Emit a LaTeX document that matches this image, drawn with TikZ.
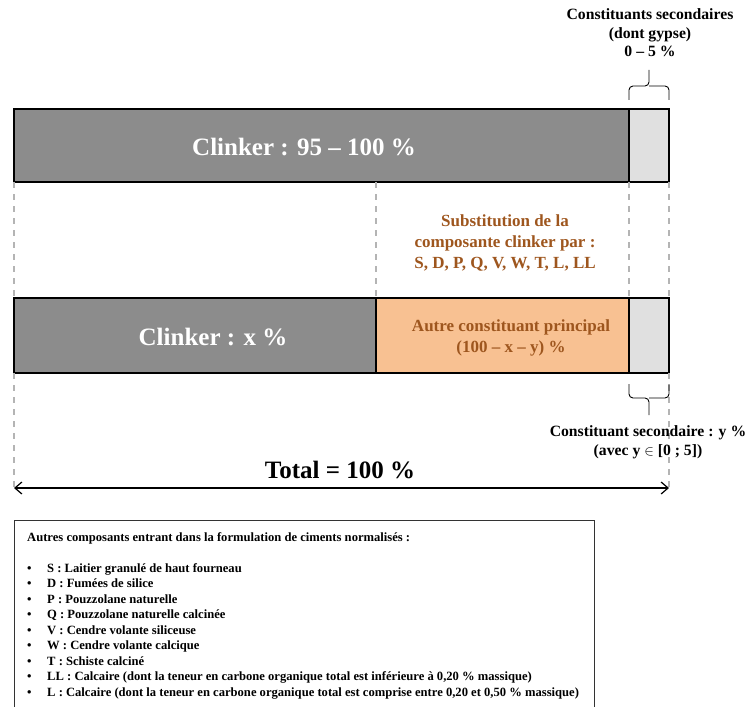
\documentclass[tikz,border=0pt]{standalone}
\usepackage{fontspec}
\setmainfont{Liberation Serif}
\usetikzlibrary{positioning,arrows.meta}
\definecolor{clinkgray}{HTML}{8C8C8C}
\definecolor{secgray}{HTML}{E0E0E0}
\definecolor{autreorange}{HTML}{F8C192}
\definecolor{subbrown}{HTML}{9E561E}
\definecolor{guidegray}{HTML}{B4B4B4}
\tikzset{
    bar/.style={draw=black,line width=1.5pt,inner sep=0pt,outer sep=0pt,anchor=north west},
    guide/.style={draw=guidegray,line width=1.2pt,dash pattern=on 6pt off 6pt},
    bigtext/.style={font=\fontsize{25}{28}\selectfont\bfseries},
    midtext/.style={font=\fontsize{17}{21}\selectfont\bfseries,text=subbrown,align=center},
    smalltext/.style={font=\fontsize{15.7}{18.5}\selectfont\bfseries,align=center},
    bracel/.style={line width=0.9pt,rounded corners=4pt}
}
\begin{document}
\begin{tikzpicture}[x=1pt,y=-1pt]
\useasboundingbox (0,0) rectangle (746,706);
% barre du haut
\node[bar,fill=clinkgray,minimum width=615pt,minimum height=73pt] (ckA) at (14,109) {};
\node[bar,fill=secgray,minimum width=40pt,minimum height=73pt,right=0pt of ckA] (scA) {};
\node[bigtext,text=white] (ckAtxt) at (304,147) {Clinker : 95 – 100 \%};
% barre du bas
\node[bar,fill=clinkgray,minimum width=362pt,minimum height=75pt] (ckB) at (14,298) {};
\node[bar,fill=autreorange,minimum width=253pt,minimum height=75pt,right=0pt of ckB] (acB) {};
\node[bar,fill=secgray,minimum width=40pt,minimum height=75pt,right=0pt of acB] (scB) {};
\node[bigtext,text=white] (ckBtxt) at (213,337) {Clinker : x \%};
\node[midtext] (acBtxt) at (511,338) {Autre constituant principal\\(100 – x – y) \%};
% pointilles
\draw[guide] (ckA.south west) -- (ckB.north west);
\draw[guide] (acB.north west |- ckA.south) -- (acB.north west);
\draw[guide] (scA.south west) -- (scB.north west);
\draw[guide] (scA.south east) -- (scB.north east);
\coordinate (totL) at (14,488);
\coordinate (totR) at (669,488);
\draw[guide] (ckB.south west) -- ([yshift=-4pt]totL);
\draw[guide] (scB.south east) -- ([yshift=-4pt]totR);
\node[midtext] (subtxt) at (505,243) {Substitution de la\\composante clinker par :\\S, D, P, Q, V, W, T, L, LL};
% accolades
\draw[bracel] (629,100) -- (629,86) -- (649,86) -- (649,70);
\draw[bracel] (669,100) -- (669,86) -- (649,86);
\node[smalltext] (sectop) at (650,33) {Constituants secondaires\\(dont gypse)\\0 – 5 \%};
\draw[bracel] (629,384) -- (629,398) -- (649,398) -- (649,415);
\draw[bracel] (669,384) -- (669,398) -- (649,398);
\node[smalltext] (secbot) at (648,442) {Constituant secondaire : y \%\\(avec y $\in$ [0 ; 5])};
% total
\node[bigtext] (tottxt) at (340,470) {Total = 100 \%};
\draw[line width=1.2pt,{Straight Barb[length=7pt,width=12pt]}-{Straight Barb[length=7pt,width=12pt]}] (totL) -- (totR);
% legende
\node[draw=black!80,line width=0.8pt,anchor=north west,minimum width=580pt,minimum height=190pt,inner sep=0pt] (legbox) at (14,520) {};
\node[anchor=north west,align=left,inner sep=0pt,font=\fontsize{12.6}{15.5}\selectfont\bfseries] (legtxt) at (27,532)
{Autres composants entrant dans la formulation de ciments normalisés :\\[15.5pt]
\makebox[20pt][l]{\textbullet}S : Laitier granulé de haut fourneau\\
\makebox[20pt][l]{\textbullet}D : Fumées de silice\\
\makebox[20pt][l]{\textbullet}P : Pouzzolane naturelle\\
\makebox[20pt][l]{\textbullet}Q : Pouzzolane naturelle calcinée\\
\makebox[20pt][l]{\textbullet}V : Cendre volante siliceuse\\
\makebox[20pt][l]{\textbullet}W : Cendre volante calcique\\
\makebox[20pt][l]{\textbullet}T : Schiste calciné\\
\makebox[20pt][l]{\textbullet}LL : Calcaire (dont la teneur en carbone organique total est inférieure à 0,20 \% massique)\\
\makebox[20pt][l]{\textbullet}L : Calcaire (dont la teneur en carbone organique total est comprise entre 0,20 et 0,50 \% massique)};
\end{tikzpicture}
\end{document}
